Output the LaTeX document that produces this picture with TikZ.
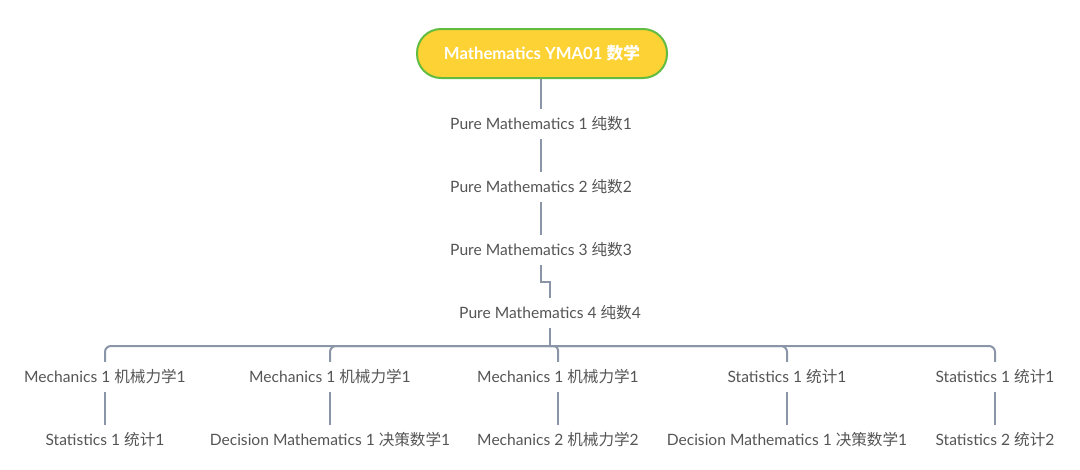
\documentclass[tikz,border=0pt]{standalone}
\usepackage{fontspec}
\usetikzlibrary{calc}
\setmainfont{Lato}
\newfontfamily\cjk{Noto Sans CJK SC}
\newcommand\zh[1]{{\cjk #1}}
\definecolor{txt}{HTML}{555555}
\definecolor{conn}{HTML}{8A96A8}
\definecolor{rootfill}{HTML}{FCD234}
\definecolor{rootedge}{HTML}{62BC42}
\begin{document}
\begin{tikzpicture}[x=1pt,y=-1pt,
  lbl/.style={font=\fontsize{15.6}{18}\selectfont, text=txt, inner sep=0pt, minimum height=30pt, anchor=center},
  rootbox/.style={draw=rootedge, line width=2pt, fill=rootfill, rounded corners=24pt, minimum width=250pt, minimum height=49pt, inner sep=0pt, text=white, font=\fontsize{16.7}{19}\selectfont\bfseries},
  link/.style={draw=conn, line width=2pt},
  branch/.style={link, rounded corners=6pt}]
\useasboundingbox (0,0) rectangle (1080,469);
\node[rootbox] (root) at (542,53.5) {Mathematics YMA01 \zh{数学}};
\node[lbl] (pm1) at (541,124) {Pure Mathematics 1 \zh{纯数}1};
\node[lbl] (pm2) at (541,187) {Pure Mathematics 2 \zh{纯数}2};
\node[lbl] (pm3) at (541,250) {Pure Mathematics 3 \zh{纯数}3};
\node[lbl] (pm4) at (550,313) {Pure Mathematics 4 \zh{纯数}4};
\coordinate (bar) at (550,346);
\node[lbl] (a1) at (105,377) {Mechanics 1 \zh{机械力学}1};
\node[lbl] (b1) at (330,377) {Mechanics 1 \zh{机械力学}1};
\node[lbl] (c1) at (558,377) {Mechanics 1 \zh{机械力学}1};
\node[lbl] (d1) at (787,377) {Statistics 1 \zh{统计}1};
\node[lbl] (e1) at (995,377) {Statistics 1 \zh{统计}1};
\node[lbl] (a2) at (105,440) {Statistics 1 \zh{统计}1};
\node[lbl] (b2) at (330,440) {Decision Mathematics 1 \zh{决策数学}1};
\node[lbl] (c2) at (558,440) {Mechanics 2 \zh{机械力学}2};
\node[lbl] (d2) at (787,440) {Decision Mathematics 1 \zh{决策数学}1};
\node[lbl] (e2) at (995,440) {Statistics 2 \zh{统计}2};
\draw[link] (pm1.north |- root.south) -- (pm1.north);
\draw[link] (pm1.south) -- (pm2.north);
\draw[link] (pm2.south) -- (pm3.north);
\draw[link] (pm3.south) |- ($(pm3.south)!0.5!(pm4.north)$) -| (pm4.north);
\draw[link] (pm4.south) -- (bar);
\foreach \c in {a1,b1,d1,e1} { \draw[branch] (bar) -| (\c.north); }
\draw[link, rounded corners=4pt] (bar) -| (c1.north);
\draw[link] (a1.south) -- (a2.north);
\draw[link] (b1.south) -- (b2.north);
\draw[link] (c1.south) -- (c2.north);
\draw[link] (d1.south) -- (d2.north);
\draw[link] (e1.south) -- (e2.north);
\end{tikzpicture}
\end{document}
